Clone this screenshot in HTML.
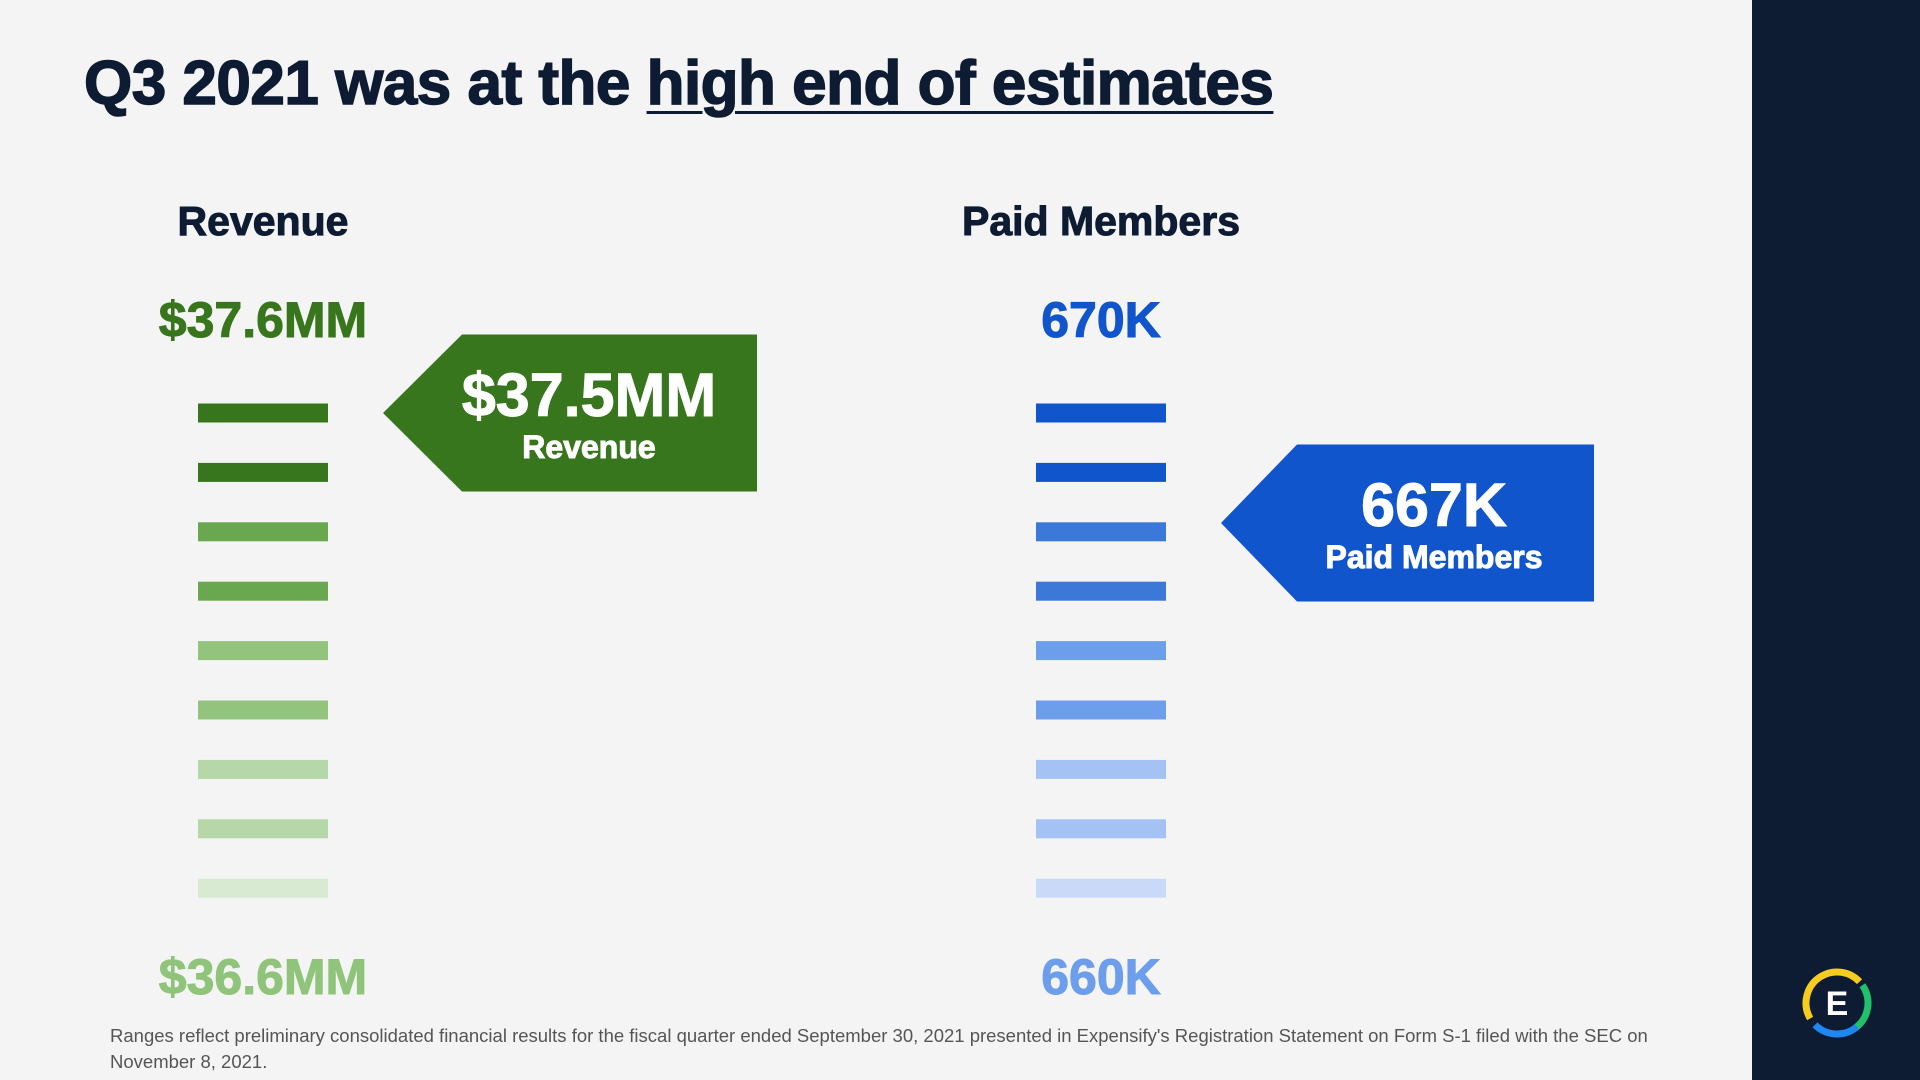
<!DOCTYPE html>
<html><head><meta charset="utf-8"><style>
body{margin:0;width:1920px;height:1080px;background:#f4f4f4;position:relative;overflow:hidden;font-family:"Liberation Sans",sans-serif}
.t{position:absolute;white-space:nowrap;font-weight:bold}
#chart text{stroke-width:1px}
</style></head><body>
<div style="position:absolute;left:1752px;top:0;width:168px;height:1080px;background:#0d1b33"></div>
<div class="t" style="left:84px;top:48px;font-size:62px;color:#0d1b33;letter-spacing:-0.5px;-webkit-text-stroke:1.5px #0d1b33">Q3 2021 was at the <span style="text-decoration:underline;text-decoration-thickness:3px;text-underline-offset:7px">high end of estimates</span></div>
<svg id="chart" width="1752" height="1000" style="position:absolute;left:0;top:0"></svg>
<div class="t" style="left:110px;top:1023px;font-weight:normal;font-size:18.5px;line-height:26px;color:#555;white-space:normal;width:1560px">Ranges reflect preliminary consolidated financial results for the fiscal quarter ended September 30, 2021 presented in Expensify's Registration Statement on Form S-1 filed with the SEC on November 8, 2021.</div>
<svg width="90" height="90" style="position:absolute;left:1792px;top:958px" viewBox="0 0 90 90">
<circle cx="45" cy="45" r="31" fill="none" stroke="#f5cc1f" stroke-width="7" stroke-dasharray="90 200" transform="rotate(150 45 45)"/>
<circle cx="45" cy="45" r="31" fill="none" stroke="#1fc16b" stroke-width="7" stroke-dasharray="48 200" transform="rotate(-35 45 45)"/>
<circle cx="45" cy="45" r="31" fill="none" stroke="#1e88f0" stroke-width="7" stroke-dasharray="46 200" transform="rotate(50 45 45)"/>
<text x="45" y="57" text-anchor="middle" font-family="Liberation Sans" font-weight="bold" font-size="34" fill="#fff">E</text>
</svg>
<script>
const titles=["Revenue","Paid Members"];
const topLabels=["$37.6MM","670K"];
const bottomLabels=["$36.6MM","660K"];
const topValues=[37.6,670];
const bottomValues=[36.6,660];
const actualValues=[37.5,667];
const actualLabels=["$37.5MM","667K"];
const actualNames=["Revenue","Paid Members"];
const barCount=9;
const NS="http://www.w3.org/2000/svg";
const svg=document.getElementById('chart');
const cfg=[{cx:263,tip:383,box:462,right:757,mx:589,dark:"#38761d",light:"#8fc47a",bars:["#38761d","#38761d","#6aa84f","#6aa84f","#93c47d","#93c47d","#b6d7a8","#b6d7a8","#d9ead3"]},
{cx:1101,tip:1221,box:1297,right:1594,mx:1434,dark:"#1155cc",light:"#6d9eeb",bars:["#1155cc","#1155cc","#3c78d8","#3c78d8","#6d9eeb","#6d9eeb","#a4c2f4","#a4c2f4","#c9daf8"]}];
function yScale(i,v){return 358+(topValues[i]-v)/(topValues[i]-bottomValues[i])*550;}
function mk(tag,attrs,text){const e=document.createElementNS(NS,tag);for(const k in attrs)e.setAttribute(k,attrs[k]);if(text!==undefined)e.textContent=text;svg.appendChild(e);return e;}
for(let i=0;i<2;i++){
 const c=cfg[i];
 let e=mk('text',{x:c.cx,y:235,'text-anchor':'middle','font-size':41,'font-weight':'bold',fill:'#0d1b33',stroke:'#0d1b33'},titles[i]);
 
 
 e=mk('text',{x:c.cx,y:337,'text-anchor':'middle','font-size':50,'font-weight':'bold',fill:c.dark,stroke:c.dark},topLabels[i]);
 
 
 e=mk('text',{x:c.cx,y:994,'text-anchor':'middle','font-size':50,'font-weight':'bold',fill:c.light,stroke:c.light},bottomLabels[i]);
 
 
 for(let b=0;b<barCount;b++){
  const y=413+b*59.4;
  e=mk('rect',{x:c.cx-65,y:y-9.5,width:130,height:19,fill:c.bars[b]});
  
  
 }
 const ty=yScale(i,actualValues[i]);
 e=mk('polygon',{points:`${c.tip},${ty} ${c.box},${ty-78.5} ${c.right},${ty-78.5} ${c.right},${ty+78.5} ${c.box},${ty+78.5}`,fill:c.bars[0]});
 
 
 e=mk('text',{x:c.mx,y:ty+3,'text-anchor':'middle','font-size':61,'font-weight':'bold',fill:'#fff',stroke:'#fff'},actualLabels[i]);
 
 
 e=mk('text',{x:c.mx,y:ty+45,'text-anchor':'middle','font-size':32,'font-weight':'bold',fill:'#fff',stroke:'#fff'},actualNames[i]);
 
 
}
</script>
</body></html>
